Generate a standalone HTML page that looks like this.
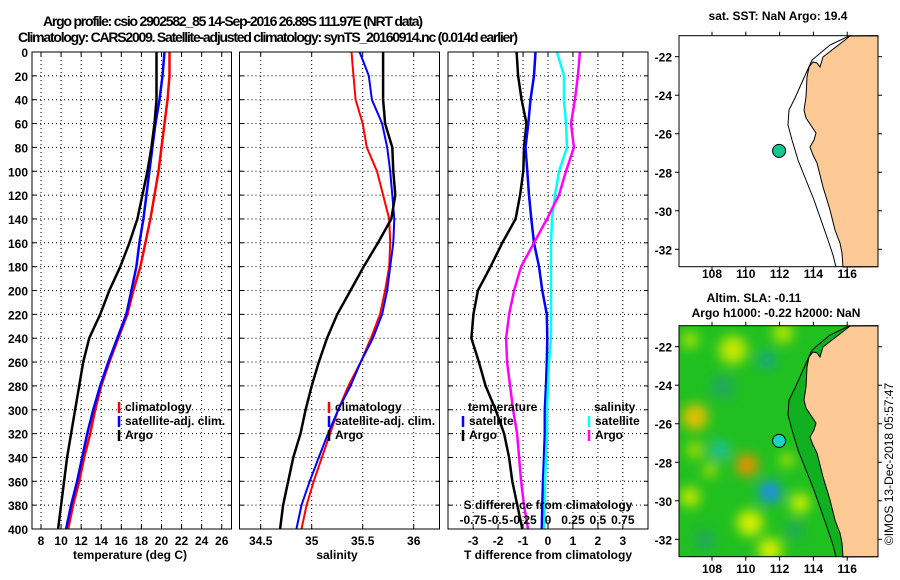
<!DOCTYPE html>
<html><head><meta charset="utf-8"><style>
html,body{margin:0;padding:0;background:#fff;}
svg{display:block;font-family:"Liberation Sans",sans-serif;}
.t{font-size:12px;font-weight:bold;fill:#000;}
.g{stroke:#000;stroke-width:1;stroke-dasharray:1,3;}
</style></head><body>
<svg id="c" width="900" height="580" viewBox="0 0 900 580"></svg>
<script>
const depths=[0,20,40,60,80,100,120,140,160,180,200,220,240,260,280,300,320,340,360,380,400];
const tempClim=[20.8,20.8,20.6,20.3,20.0,19.7,19.3,18.9,18.4,17.9,17.2,16.6,15.7,14.8,14.0,13.4,12.9,12.3,11.8,11.2,10.7];
const tempSat=[20.3,20.1,19.8,19.4,19.1,18.8,18.5,18.2,17.8,17.5,17.0,16.5,15.6,14.7,13.9,13.2,12.6,12.1,11.6,11.0,10.5];
const tempArgo=[19.5,19.5,19.5,19.3,19.0,18.6,18.1,17.6,16.8,15.9,14.8,13.9,12.8,12.2,11.8,11.4,11.0,10.6,10.3,10.0,9.7];
const salClim=[35.39,35.41,35.43,35.50,35.54,35.64,35.70,35.76,35.77,35.76,35.72,35.67,35.58,35.48,35.36,35.26,35.18,35.10,35.02,34.95,34.90];
const salSat=[35.47,35.56,35.59,35.69,35.74,35.77,35.79,35.81,35.80,35.77,35.74,35.69,35.60,35.48,35.38,35.26,35.16,35.07,34.98,34.90,34.85];
const salArgo=[35.70,35.70,35.70,35.72,35.79,35.80,35.82,35.78,35.65,35.51,35.38,35.25,35.15,35.07,35.00,34.94,34.89,34.82,34.77,34.72,34.69];
const dTsat=[-0.50,-0.56,-0.70,-0.79,-0.90,-0.83,-0.76,-0.67,-0.56,-0.36,-0.23,-0.05,-0.03,-0.05,-0.08,-0.13,-0.13,-0.16,-0.20,-0.23,-0.25];
const dTargo=[-1.26,-1.20,-1.06,-0.86,-0.96,-0.99,-1.12,-1.30,-1.83,-2.30,-2.81,-2.99,-3.07,-2.77,-2.50,-2.10,-1.76,-1.56,-1.43,-1.23,-1.03];
const dSsat=[0.09,0.16,0.16,0.18,0.19,0.11,0.07,0.04,0.03,0.03,0.03,0.03,0.03,0.01,0,-0.01,-0.01,-0.02,-0.03,-0.03,-0.04];
const dSargo=[0.32,0.30,0.27,0.23,0.26,0.18,0.11,-0.01,-0.14,-0.27,-0.34,-0.39,-0.42,-0.41,-0.38,-0.35,-0.31,-0.29,-0.27,-0.24,-0.20];
const depthTicks=[0,20,40,60,80,100,120,140,160,180,200,220,240,260,280,300,320,340,360,380,400];
const tempTicks=[8,10,12,14,16,18,20,22,24,26];
const salTicks=[34.5,35,35.5,36];
const dTTicks=[-3,-2,-1,0,1,2,3];
const dSTickLabels=["-0.75","-0.5","-0.25","0","0.25","0.5","0.75"];
const latTicks=[-22,-24,-26,-28,-30,-32];
const lonTicks=[108,110,112,114,116];
const argoLon=111.97, argoLat=-26.89;

const NS="http://www.w3.org/2000/svg";
const svg=document.getElementById('c');
function el(tag,attrs,parent){const e=document.createElementNS(NS,tag);for(const k in attrs)e.setAttribute(k,attrs[k]);(parent||svg).appendChild(e);return e;}
function txt(x,y,s,anchor,cls,parent){const e=el('text',{x:x,y:y,'text-anchor':anchor||'start','class':cls||'t'},parent);e.textContent=s;return e;}

const Y0=52,Y1=529;
const yD=d=>Y0+(d/400)*(Y1-Y0);
const xT=v=>41+(v-8)*10.04;
const xS=v=>260.7+(v-34.5)*102;
const xdT=v=>548+v*24.95;
const xdS=v=>548+v*4*24.95;
function line(pts){return pts.map((p,i)=>(i?'L':'M')+p[0].toFixed(1)+','+p[1].toFixed(1)).join(' ');}

let t1=txt(43,26,"Argo profile: csio 2902582_85 14-Sep-2016 26.89S 111.97E (NRT data)",'start','');
t1.setAttribute('style','font-size:14px;');t1.setAttribute('textLength','380');

let t2=txt(18,42,"Climatology: CARS2009. Satellite-adjusted climatology: synTS_20160914.nc (0.014d earlier)",'start','');
t2.setAttribute('style','font-size:14px;');t2.setAttribute('textLength','500');


function panel(name,x0,x1,vticks,xfn){
  const g=el('g',{});
  
  el('rect',{x:x0,y:Y0,width:x1-x0,height:Y1-Y0,fill:'#fff',stroke:'none'},g);
  vticks.forEach(v=>{const x=xfn(v);el('line',{x1:x,x2:x,y1:Y0,y2:Y1,'class':'g'},g);el('line',{x1:x,x2:x,y1:Y0,y2:Y0+4,stroke:'#000'},g);el('line',{x1:x,x2:x,y1:Y1,y2:Y1-4,stroke:'#000'},g);});
  depthTicks.forEach(d=>{const y=yD(d);el('line',{x1:x0,x2:x1,y1:y,y2:y,'class':'g'},g);el('line',{x1:x0,x2:x0+4,y1:y,y2:y,stroke:'#000'},g);el('line',{x1:x1-4,x2:x1,y1:y,y2:y,stroke:'#000'},g);});
  return g;
}
function series(g,name,vals,xfn,color,w){
  const p=el('path',{d:line(vals.map((v,i)=>[xfn(v),yD(depths[i])])),fill:'none',stroke:color,'stroke-width':w||2},g);
  
}
function legendItem(g,x,y,color,label,name){
  el('line',{x1:x,x2:x,y1:y-9,y2:y+2,stroke:color,'stroke-width':2.5},g);
  const t=txt(x+6,y,label,'start','t',g);
}

const p1=panel('temperature-panel',32,231.5,tempTicks,xT);
series(p1,'temp-climatology-line',tempClim,xT,'#f00',2.5);
series(p1,'temp-satellite-line',tempSat,xT,'#00f',2.5);
series(p1,'temp-argo-line',tempArgo,xT,'#000',2.5);
el('rect',{x:32,y:Y0,width:199.5,height:Y1-Y0,fill:'none',stroke:'#000'},p1);
depthTicks.forEach(d=>{const t=txt(28,yD(d)+5,String(d),'end','t',p1);});
tempTicks.forEach(v=>{const t=txt(xT(v),545,String(v),'middle','t',p1);});
let xt1=txt(130,559,'temperature (deg C)','middle','t',p1);
legendItem(p1,119,411,'#f00','climatology','legend-climatology');
legendItem(p1,119,425,'#00f','satellite-adj. clim.','legend-satellite-adj');
legendItem(p1,119,439,'#000','Argo','legend-argo');

const p2=panel('salinity-panel',239.5,439.5,salTicks,xS);
series(p2,'sal-climatology-line',salClim,xS,'#f00',2);
series(p2,'sal-satellite-line',salSat,xS,'#00f',2);
series(p2,'sal-argo-line',salArgo,xS,'#000',2.5);
el('rect',{x:239.5,y:Y0,width:200,height:Y1-Y0,fill:'none',stroke:'#000'},p2);
salTicks.forEach(v=>{const t=txt(xS(v),545,String(v),'middle','t',p2);});
let xt2=txt(337,559,'salinity','middle','t',p2);
legendItem(p2,329,411,'#f00','climatology','legend-climatology');
legendItem(p2,329,425,'#00f','satellite-adj. clim.','legend-satellite-adj');
legendItem(p2,329,439,'#000','Argo','legend-argo');

const p3=panel('difference-panel',448,648,dTTicks,xdT);
series(p3,'dT-argo-line',dTargo,xdT,'#000',2.5);
series(p3,'dT-satellite-line',dTsat,xdT,'#00f',2.5);
series(p3,'dS-satellite-line',dSsat,xdS,'#0ff',2.5);
series(p3,'dS-argo-line',dSargo,xdS,'#f0f',2.5);
el('rect',{x:448,y:Y0,width:200,height:Y1-Y0,fill:'none',stroke:'#000'},p3);
dTTicks.forEach(v=>{const t=txt(xdT(v),545,String(v),'middle','t',p3);});
dSTickLabels.forEach((s,i)=>{const t=txt(xdS(Number(s)),524,s,'middle','t',p3);});
let st=txt(548,509,'S difference from climatology','middle','t',p3);
let tt=txt(548,559,'T difference from climatology','middle','t',p3);
let lt=txt(468,411,'temperature','start','t',p3);
let ls=txt(594,411,'salinity','start','t',p3);
legendItem(p3,463,425,'#00f','satellite','legend-t-satellite');
legendItem(p3,463,439,'#000','Argo','legend-t-argo');
legendItem(p3,589,425,'#0ff','satellite','legend-s-satellite');
legendItem(p3,589,439,'#f0f','Argo','legend-s-argo');

const MX0=679,MX1=878;
const lonX=l=>712+(l-108)*16.9;
function coast(yoff){
  const pts=[[850,36],[845,40],[832,50],[823,57],[820,67],[817,63],[813,62],[809,67],[807,77],[806,97],[804,110],[806,118],[812,127],[816,133],[814,140],[810,147],[813,155],[817,163],[820,175],[823,187],[827,200],[830,210],[833,222],[835,230],[838,238],[840,243],[842,253],[843,267]];
  return pts.map(p=>[p[0],p[1]+yoff]);
}
function shelf(yoff){
  const pts=[[849,36],[830,45],[812,60],[803,80],[795,98],[789,110],[788,125],[792,140],[798,160],[806,180],[814,200],[821,220],[828,240],[833,255],[836,267]];
  return pts.map(p=>[p[0],p[1]+yoff]);
}
function map(name,y0,filled,lonLabelY){
  const g=el('g',{});
  
  const Y=l=>y0+21+(-22-l)*19.26;
  if(filled){
    const defs=el('defs',{},g);
    const f=el('filter',{id:'bl',x:'-50%',y:'-50%',width:'200%',height:'200%'},defs);
    el('feGaussianBlur',{stdDeviation:'6'},f);
    const cp=el('clipPath',{id:'mc'},defs);
    el('rect',{x:MX0,y:y0,width:MX1-MX0,height:231},cp);
    const gg=el('g',{'clip-path':'url(#mc)'},g);
    el('rect',{x:MX0,y:y0,width:MX1-MX0,height:231,fill:'#20c020'},gg);
    const blobs=[[695,417,13,'#e8c000'],[747,465,11,'#f09000'],[770,492,11,'#1a8cf0'],[720,450,9,'#20c0b0'],[767,360,9,'#18a888'],[733,350,14,'#c8e800'],[750,523,13,'#d8f000'],[800,503,10,'#d0f000'],[690,497,10,'#c8e800'],[783,333,10,'#b8e800'],[787,460,7,'#b8e800'],[723,387,12,'#20a860'],[770,550,12,'#d8f000'],[690,340,8,'#b8e800'],[705,540,10,'#20a860'],[795,530,9,'#20a860'],[695,450,8,'#b8e000'],[710,470,7,'#b8e000']];
    const bg=el('g',{filter:'url(#bl)'},gg);
    blobs.forEach(b=>el('circle',{cx:b[0],cy:b[1],r:b[2],fill:b[3]},bg));
    const sh=shelf(y0-35.7).concat(coast(y0-35.7).reverse());
    el('path',{d:line(sh)+'Z',fill:'#10b020'},gg);
  }
  const c=coast(y0-35.7);
  const land=c.concat([[MX1,y0+231],[MX1,y0]]);
  el('path',{d:line(land)+'Z',fill:'#fdca96',stroke:'#000','stroke-width':1},g);
  el('path',{d:line(shelf(y0-35.7)),fill:'none',stroke:'#000','stroke-width':1},g);
  el('rect',{x:MX0,y:y0,width:MX1-MX0,height:231,fill:'none',stroke:'#000'},g);
  latTicks.forEach(l=>{const y=Y(l);el('line',{x1:MX0-4,x2:MX0,y1:y,y2:y,stroke:'#000'},g);el('line',{x1:MX1,x2:MX1+4,y1:y,y2:y,stroke:'#000'},g);
    const t=txt(MX0-7,y+5,String(l),'end','t',g);});
  lonTicks.forEach(l=>{const x=lonX(l);el('line',{x1:x,x2:x,y1:y0-4,y2:y0,stroke:'#000'},g);el('line',{x1:x,x2:x,y1:y0+231,y2:y0+235,stroke:'#000'},g);
    const t=txt(x,lonLabelY,String(l),'middle','t',g);});
  const dot=el('circle',{cx:lonX(argoLon),cy:Y(argoLat),r:6.5,fill:filled?'#20d0c0':'#10c890',stroke:'#000','stroke-width':1},g);
  
  return g;
}
const m1=map('sst-map',35.7,false,278);
let mt1=txt(778,20,'sat. SST: NaN Argo: 19.4','middle','t',m1);
const m2=map('sla-map',325.7,true,573);
let mt2=txt(754,302,'Altim. SLA: -0.11','middle','t',m2);
let mt3=txt(776,317,'Argo h1000: -0.22 h2000: NaN','middle','t',m2);
let cr=el('text',{x:0,y:0,'text-anchor':'middle',transform:'translate(893,464) rotate(-90)',style:'font-size:12px;'});
cr.textContent='©IMOS 13-Dec-2018 05:57:47';

</script>
</body></html>
